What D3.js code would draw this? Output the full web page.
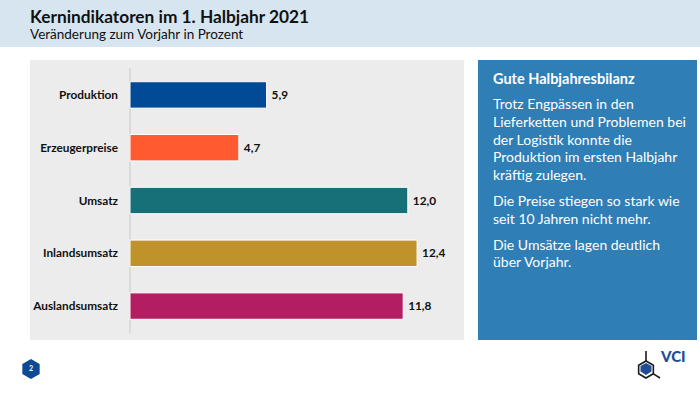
<!DOCTYPE html>
<html>
<head>
<meta charset="utf-8">
<script src="https://cdn.jsdelivr.net/npm/d3@7"></script>
<style>
  body { margin: 0; background: #fff; }
  svg { display: block; font-family: "Source Sans Pro", Lato, "Open Sans", sans-serif; }
</style>
</head>
<body>
<div id="chart"></div>
<script>
const categories = ["Produktion", "Erzeugerpreise", "Umsatz", "Inlandsumsatz", "Auslandsumsatz"];
const values = [5.9, 4.7, 12.0, 12.4, 11.8];
const barColors = ["#004a96", "#ff5a30", "#176f78", "#bf922a", "#b31d61"];

const title = "Kernindikatoren im 1. Halbjahr 2021";
const subtitle = "Veränderung zum Vorjahr in Prozent";
const boxHeading = "Gute Halbjahresbilanz";
const boxParagraphs = [
    ["Trotz Engpässen in den", "Lieferketten und Problemen bei", "der Logistik konnte die", "Produktion im ersten Halbjahr", "kräftig zulegen."],
    ["Die Preise stiegen so stark wie", "seit 10 Jahren nicht mehr."],
    ["Die Umsätze lagen deutlich", "über Vorjahr."]
];

const width = 700, height = 395;
const fmt = d => d3.format(".1f")(d).replace(".", ",");

const svg = d3.select("#chart")
              .append("svg")
              .attr("width", width)
              .attr("height", height);

// header band
svg.append("rect")
   .attr("x", 0).attr("y", 0)
   .attr("width", width).attr("height", 47)
   .attr("fill", "#d6e5f0");
svg.append("text")
   .attr("x", 30).attr("y", 23)
   .attr("font-size", 17.3).attr("font-weight", "bold")
   .attr("fill", "#111")
   .text(title);
svg.append("text")
   .attr("x", 30).attr("y", 39)
   .attr("font-size", 13.5)
   .attr("fill", "#111")
   .text(subtitle);

// chart panel
svg.append("rect")
   .attr("x", 30).attr("y", 60)
   .attr("width", 434).attr("height", 280)
   .attr("fill", "#ececec");

const x = d3.scaleLinear()
            .domain([0, 14])
            .range([130, 130 + 14 * 23.15]);

const y = d3.scaleBand()
            .domain(categories)
            .range([68, 333])
            .paddingInner(0.5)
            .paddingOuter(0.26);

svg.append("line")
   .attr("x1", x(0)).attr("x2", x(0))
   .attr("y1", 68).attr("y2", 333)
   .attr("stroke", "#c9c9c9")
   .attr("stroke-width", 1);

const rows = categories.map((c, i) => ({cat: c, value: values[i], color: barColors[i]}));

svg.selectAll("rect.bar")
   .data(rows)
   .enter()
   .append("rect")
   .attr("class", "bar")
   .attr("x", x(0))
   .attr("y", d => y(d.cat))
   .attr("width", d => x(d.value) - x(0))
   .attr("height", y.bandwidth())
   .attr("fill", d => d.color)
   .attr("stroke", "#ffffff")
   .attr("stroke-width", 1);

svg.selectAll("text.cat")
   .data(rows)
   .enter()
   .append("text")
   .attr("class", "cat")
   .attr("x", 118)
   .attr("y", d => y(d.cat) + y.bandwidth() / 2)
   .attr("dy", "0.35em")
   .attr("text-anchor", "end")
   .attr("font-size", 11.8).attr("font-weight", "bold")
   .attr("fill", "#111")
   .text(d => d.cat);

svg.selectAll("text.val")
   .data(rows)
   .enter()
   .append("text")
   .attr("class", "val")
   .attr("x", d => x(d.value) + 5)
   .attr("y", d => y(d.cat) + y.bandwidth() / 2)
   .attr("dy", "0.35em")
   .attr("font-size", 11.8).attr("font-weight", "bold")
   .attr("fill", "#111")
   .text(d => fmt(d.value));

// side box
svg.append("rect")
   .attr("x", 478).attr("y", 60)
   .attr("width", 219).attr("height", 280)
   .attr("fill", "#2f7eb5");
svg.append("text")
   .attr("x", 493).attr("y", 84)
   .attr("font-size", 14.5).attr("font-weight", "bold")
   .attr("fill", "#fff")
   .text(boxHeading);

let ly = 109;
boxParagraphs.forEach(p => {
    p.forEach(line => {
        svg.append("text")
           .attr("x", 493).attr("y", ly)
           .attr("font-size", 14)
           .attr("fill", "#fff")
           .text(line);
        ly += 17.8;
    });
    ly += 8;
});

// page number
const hex = (cx, cy, r) => d3.range(6).map(i => {
    const a = Math.PI / 3 * i - Math.PI / 2;
    return [cx + r * Math.cos(a), cy + r * Math.sin(a)];
});
svg.append("polygon")
   .attr("points", hex(31, 369, 10).join(" "))
   .attr("fill", "#0d4a94");
svg.append("text")
   .attr("x", 31).attr("y", 369)
   .attr("dy", "0.35em")
   .attr("text-anchor", "middle")
   .attr("font-size", 7).attr("font-weight", "bold")
   .attr("fill", "#fff")
   .text("2");

// VCI logo
const lg = svg.append("g");
lg.append("polygon")
  .attr("points", hex(646, 369.5, 8.5).join(" "))
  .attr("fill", "none")
  .attr("stroke", "#1a1a1a")
  .attr("stroke-width", 1.6);
lg.append("path")
  .attr("d", "M640.5,366 L646,363 L651.5,366 L651.5,371.5 L646,375 L640.5,371.5 Z")
  .attr("fill", "#1f4d96");
lg.append("line")
  .attr("x1", 646).attr("x2", 646)
  .attr("y1", 351).attr("y2", 361)
  .attr("stroke", "#1a1a1a").attr("stroke-width", 1.6);
lg.append("line")
  .attr("x1", 653.4).attr("x2", 660)
  .attr("y1", 373.8).attr("y2", 378)
  .attr("stroke", "#1a1a1a").attr("stroke-width", 1.6);
lg.append("text")
  .attr("x", 661).attr("y", 361.5)
  .attr("font-size", 15).attr("font-weight", "900")
  .attr("fill", "#1f4d96")
  .text("VCI");
</script>
</body>
</html>
